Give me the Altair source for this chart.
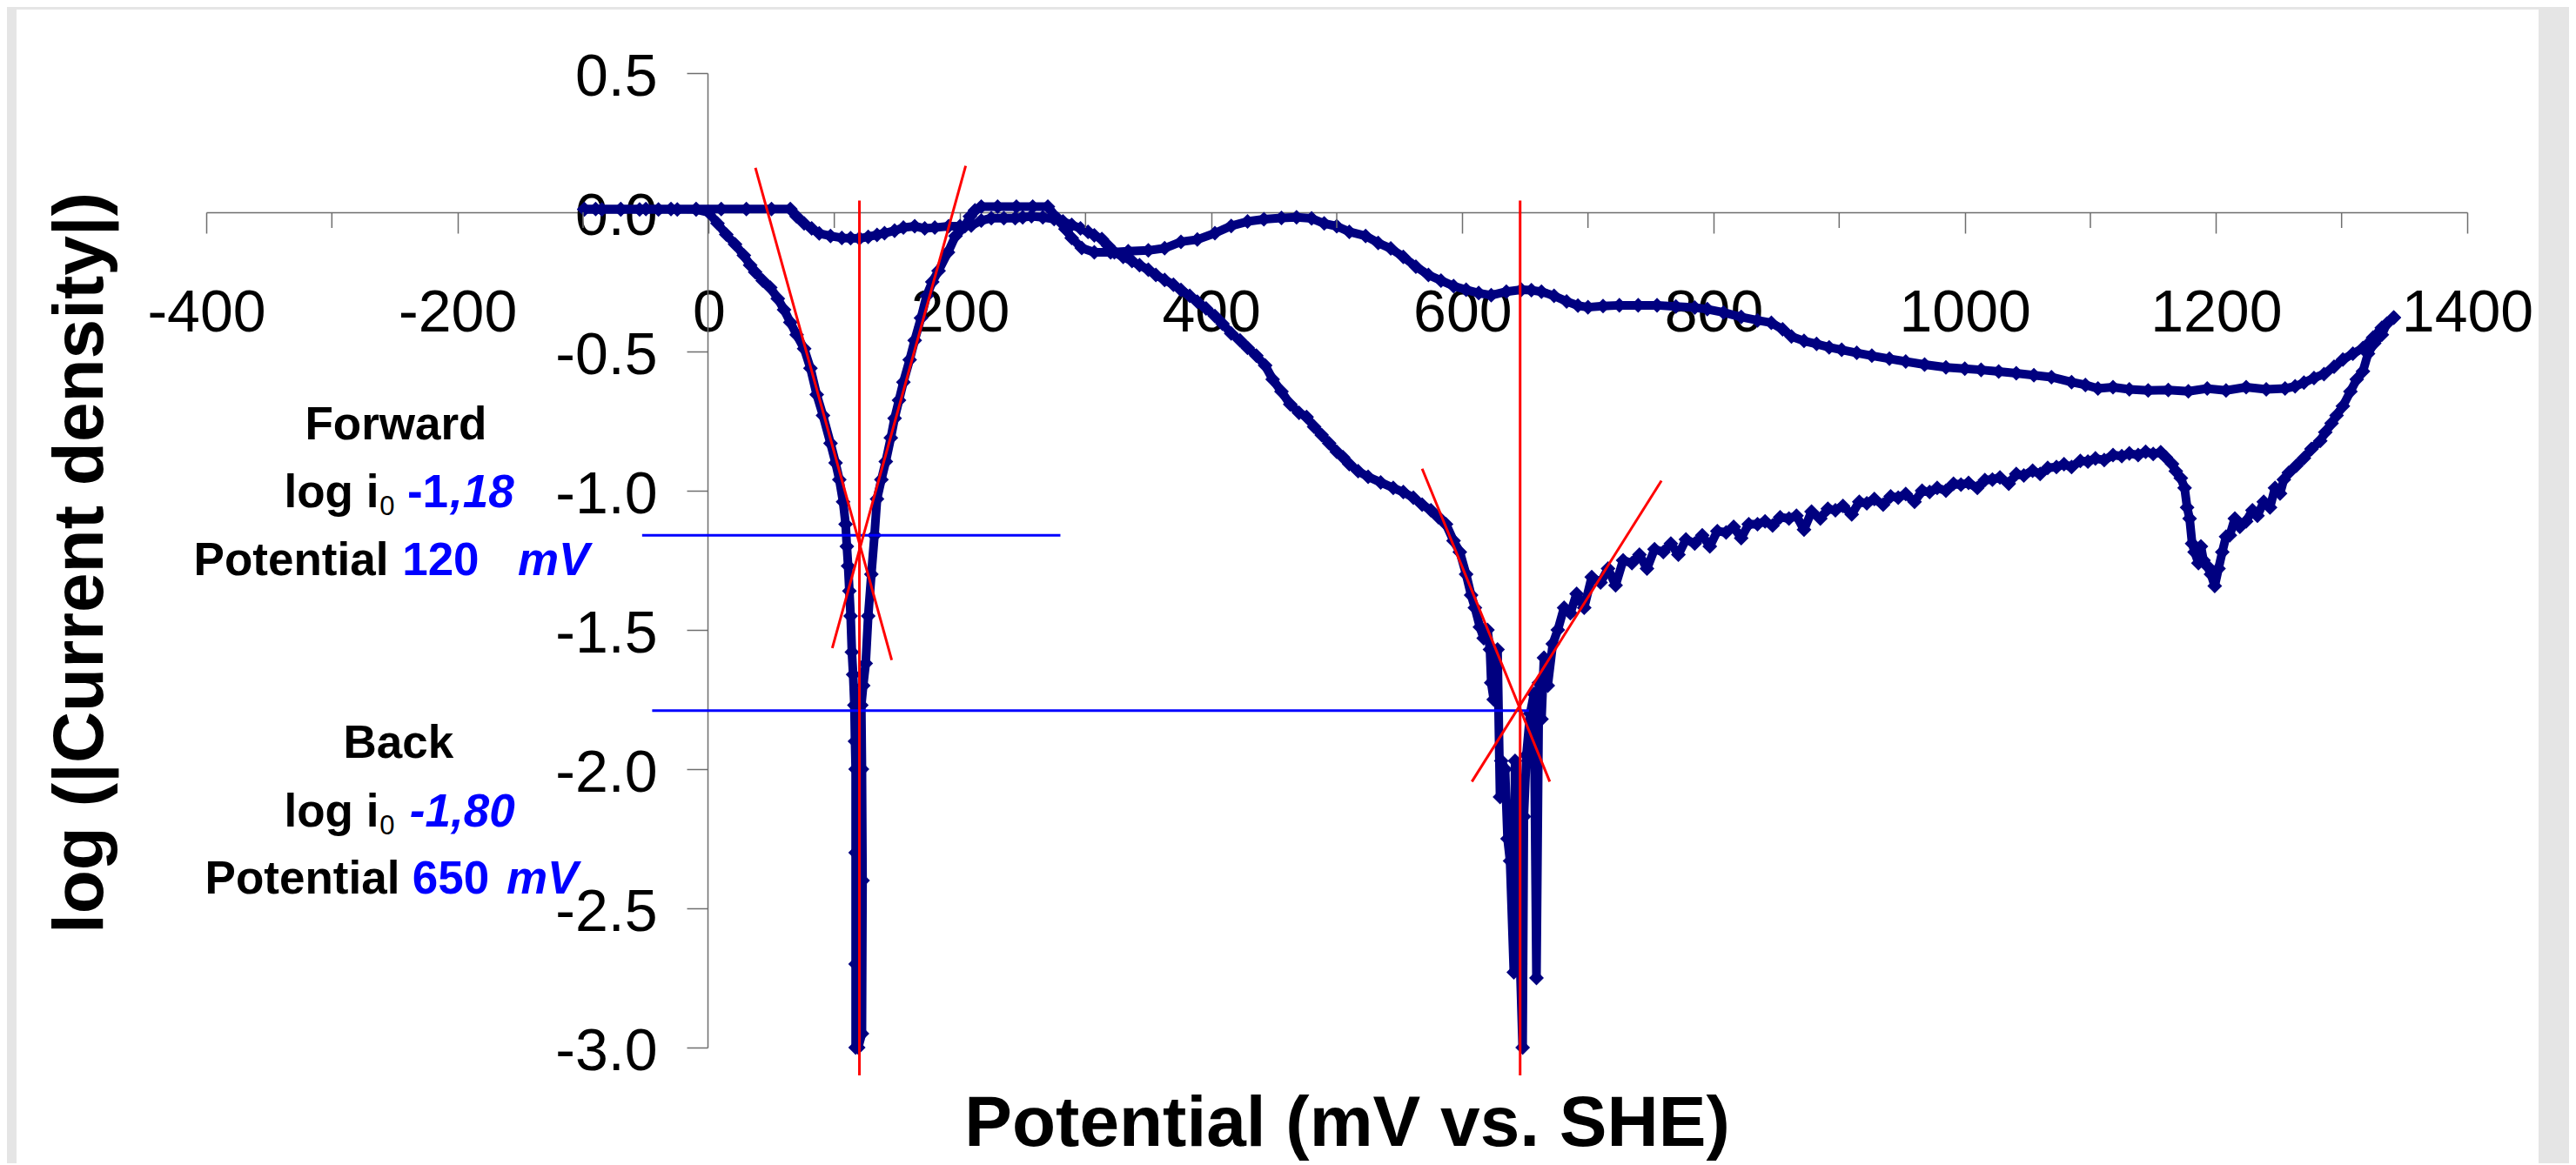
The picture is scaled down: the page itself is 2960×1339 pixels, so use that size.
import altair as alt
import pandas as pd

# ---------------- data ----------------
# forward scan: (potential mV, log|i|)
FORWARD_SCAN = [
    (-99, 0.01), (-85, 0.01), (-70, 0.01), (-55, 0.01), (-40, 0.01), (-25, 0.01), (-10, 0.01), (0, 0.0),
    (7, -0.04), (14, -0.08), (21, -0.115), (28, -0.155), (33, -0.19), (37, -0.215), (43, -0.245),
    (49, -0.27), (55, -0.31), (60, -0.35), (65, -0.395), (70, -0.44), (76, -0.49), (81, -0.56),
    (86, -0.655), (91, -0.73), (97, -0.83), (101, -0.90), (104, -0.96), (107, -1.04), (109, -1.12),
    (110, -1.20), (111, -1.27), (112, -1.36), (113, -1.45), (114, -1.58), (115, -1.66), (116, -1.77),
    (116.5, -1.90), (117, -2.0), (117, -2.3), (117, -2.7), (117, -3.0),
    (119, -3.0), (122, -2.95), (122.5, -2.4), (122, -2.0), (121.5, -1.77), (123, -1.70), (125, -1.62),
    (127, -1.45), (129.5, -1.30), (132, -1.16), (134, -1.03), (137.5, -0.96), (141, -0.895), (145, -0.81),
    (148, -0.74), (151.5, -0.675), (155, -0.61), (160, -0.53), (164, -0.46), (169, -0.38), (173.5, -0.30),
    (178, -0.25), (183, -0.21), (190.5, -0.144), (196.5, -0.085), (204, -0.05), (208, -0.015), (212, 0.007),
    (217, 0.02), (230, 0.02), (245, 0.02), (258, 0.02), (270, 0.02), (278, -0.024), (284, -0.06),
    (289, -0.092), (297, -0.128), (307, -0.144), (320, -0.144), (334, -0.14), (350, -0.137), (363, -0.129),
    (376, -0.106), (389, -0.098), (403, -0.075), (416, -0.049), (429, -0.033), (442, -0.025), (456, -0.02),
    (468, -0.018), (480, -0.022), (490, -0.04), (500, -0.05), (510, -0.07), (523, -0.085), (533, -0.11),
    (543, -0.13), (553, -0.16), (563, -0.195), (573, -0.225), (583, -0.245), (593, -0.265), (603, -0.278),
    (613, -0.29), (623, -0.298), (635, -0.285), (647, -0.278), (655, -0.28), (663, -0.285), (673, -0.30),
    (683, -0.32), (692, -0.335), (700, -0.341), (712, -0.337), (725, -0.334), (740, -0.334), (755, -0.334),
    (770, -0.338), (785, -0.342), (795, -0.348), (808, -0.36), (822, -0.376), (835, -0.388), (846, -0.397),
    (855, -0.42), (862, -0.446), (872, -0.462), (882, -0.473), (892, -0.485), (902, -0.494), (914, -0.505),
    (926, -0.515), (940, -0.526), (953, -0.536), (968, -0.547), (985, -0.557), (1000, -0.562), (1013, -0.566),
    (1027, -0.572), (1041, -0.578), (1055, -0.585), (1069, -0.592), (1085, -0.61), (1096, -0.62),
    (1106, -0.633), (1118, -0.628), (1131, -0.636), (1146, -0.64), (1162, -0.638), (1178, -0.643),
    (1193, -0.633), (1208, -0.64), (1224, -0.628), (1240, -0.636), (1255, -0.633), (1263, -0.625),
    (1270, -0.612), (1278, -0.595), (1286, -0.581), (1294, -0.555), (1301, -0.529), (1309, -0.508),
    (1317, -0.4875), (1325, -0.45), (1332, -0.415), (1341.5, -0.378),
]

# back scan: (potential mV, log|i|)
BACK_SCAN = [
    (1341.5, -0.378), (1336, -0.40), (1332, -0.44), (1326, -0.47), (1321, -0.508), (1317, -0.571),
    (1312, -0.60), (1307, -0.644), (1301, -0.696), (1296, -0.73), (1292, -0.758), (1287, -0.79),
    (1283, -0.821), (1276, -0.85), (1270, -0.883), (1264, -0.91), (1258, -0.935), (1254, -0.96),
    (1251, -1.01), (1247, -0.99), (1243, -1.06), (1238, -1.04), (1233, -1.09), (1229, -1.07),
    (1224, -1.11), (1219, -1.13), (1215, -1.10), (1211, -1.16), (1208, -1.165), (1205, -1.22),
    (1202, -1.28), (1199, -1.342), (1196, -1.30), (1193, -1.27), (1190, -1.25), (1188, -1.20),
    (1186, -1.26), (1183, -1.22), (1181, -1.19), (1179, -1.10), (1177, -1.06), (1175, -0.99),
    (1172, -0.955), (1168, -0.93), (1165, -0.904), (1160, -0.88),
    (1156, -0.862), (1150, -0.868), (1144, -0.860), (1138, -0.872), (1131, -0.866), (1125, -0.876),
    (1118, -0.872), (1111, -0.890), (1104, -0.884), (1098, -0.895), (1092, -0.893), (1085, -0.915),
    (1079, -0.905), (1073, -0.915), (1066, -0.918), (1060, -0.94), (1054, -0.928), (1047, -0.945),
    (1041, -0.94), (1035, -0.975), (1028, -0.952), (1022, -0.96), (1016, -0.962), (1010, -0.99),
    (1003, -0.972), (997, -0.978), (991, -0.975), (985, -1.0), (978, -0.99), (972, -1.005),
    (966, -1.0), (960, -1.04), (953, -1.012), (947, -1.025), (941, -1.02), (935, -1.05),
    (928, -1.03), (922, -1.045), (916, -1.04), (910, -1.085), (903, -1.055), (897, -1.07),
    (891, -1.065), (885, -1.10), (878, -1.075), (872, -1.14), (866, -1.09), (860, -1.10),
    (853, -1.095), (847, -1.125), (841, -1.11), (835, -1.12), (828, -1.12), (822, -1.17),
    (816, -1.13), (810, -1.15), (803, -1.145), (797, -1.20), (791, -1.16), (785, -1.19),
    (778, -1.175), (772, -1.23), (766, -1.19), (760, -1.22), (753, -1.21), (747, -1.28),
    (741, -1.23), (735, -1.26), (728, -1.25), (722, -1.34), (716, -1.28), (710, -1.33),
    (703, -1.31), (697, -1.42), (691, -1.37), (686, -1.44), (681, -1.42), (676, -1.50),
    (672, -1.55), (668, -1.70), (665, -1.60), (663, -1.82), (661, -1.69), (659, -2.75),
    (657, -1.73), (654, -1.80), (651, -1.95), (649, -2.17), (648, -3.0), (646, -2.7),
    (644, -2.35), (642, -1.97), (641, -2.73), (638, -2.33), (636, -2.25), (634, -2.0),
    (631, -1.97), (630, -2.1), (628, -1.57), (625, -1.75), (623, -1.69), (622, -1.57),
    (620, -1.50), (617, -1.53), (614, -1.49), (610, -1.42), (607, -1.375), (603, -1.30),
    (598, -1.22), (593, -1.18), (587, -1.12), (581, -1.095), (575, -1.07), (568, -1.05),
    (561, -1.025), (553, -1.005), (545, -0.99), (535, -0.97), (525, -0.95), (517, -0.93),
    (510, -0.905), (505, -0.88), (500, -0.86), (494, -0.83), (488, -0.80), (482, -0.77),
    (476, -0.735), (470, -0.72), (463, -0.69), (456, -0.644), (449, -0.60), (443, -0.55),
    (436, -0.515), (429, -0.487), (423, -0.46), (416, -0.435), (409, -0.40), (403, -0.373),
    (396, -0.345), (389, -0.321), (383, -0.30), (376, -0.279), (370, -0.26), (363, -0.243),
    (356, -0.225), (350, -0.206), (343, -0.19), (337, -0.175), (330, -0.16), (323, -0.144),
    (318, -0.12), (313, -0.096), (307, -0.083), (302, -0.07), (296, -0.058), (289, -0.045),
    (282, -0.033), (275, -0.024), (266, -0.018), (257, -0.014), (250, -0.018), (244, -0.021),
    (235, -0.021), (225, -0.021), (217, -0.03), (209, -0.048), (200, -0.05), (191, -0.05),
    (180, -0.055), (172, -0.058), (164, -0.05), (155, -0.055), (148, -0.066), (140, -0.075),
    (134, -0.081), (127, -0.088), (120, -0.094), (113, -0.093), (106, -0.092), (97, -0.085),
    (88, -0.076), (82, -0.058), (76, -0.04), (70, -0.015), (65, 0.012), (50, 0.012),
    (30, 0.012), (10, 0.012), (-10, 0.012), (-30, 0.012), (-50, 0.012), (-70, 0.012),
    (-90, 0.012), (-99, 0.012),
]

# corrosion potentials (red verticals)
E_CORR_MV = [120, 646]
E_LINE_TOP = [0.042, 0.042]
E_LINE_BOTTOM = [-3.10, -3.10]

# log i0 (blue horizontals)
LOG_I0 = [-1.16, -1.79]
I0_LINE_FROM = [-53, -45]
I0_LINE_TO = [280, 653]

# Tafel extrapolation lines (red)
TAFEL_X1 = [37.2, 204.6, 568.0, 758.5]
TAFEL_Y1 = [0.160, 0.167, -0.921, -0.964]
TAFEL_X2 = [145.7, 98.4, 669.6, 607.6]
TAFEL_Y2 = [-1.608, -1.565, -2.045, -2.045]

# axis ticks
X_MAJOR = [-400, -200, 0, 200, 400, 600, 800, 1000, 1200, 1400]
X_MINOR = [-300, -100, 100, 300, 500, 700, 900, 1100, 1300]
Y_TICKS = [0.5, 0.0, -0.5, -1.0, -1.5, -2.0, -2.5, -3.0]

# annotation texts (anchored in data units)
ANN_TEXT = ["Forward", "log i", "0", "-1", ",18", "Potential", "120", "mV",
            "Back", "log i", "0", "-1,80", "Potential", "650", "mV"]
ANN_MV = [-249, -338, -262, -240, -206, -410, -244, -152,
          -247, -338, -262, -238, -401, -236, -161]
ANN_LOG = [-0.816, -1.059, -1.0875, -1.059, -1.059, -1.303, -1.303, -1.303,
           -1.959, -2.206, -2.234, -2.206, -2.447, -2.447, -2.447]
ANN_KIND = ["head", "label", "sub", "value", "value_it", "label", "value", "value_it",
            "head", "label", "sub", "value_it", "label", "value", "value_it"]

X_TITLE = ["Potential (mV vs. SHE)"]
Y_TITLE = ["log (|Current density|)"]

# ---------------- chart ----------------
FONT = "Liberation Sans"
NAVY = "#000080"
AXIS_GRAY = "#6e6e6e"
BORDER_GRAY = "#e5e5e5"

xs = alt.Scale(domain=[-400, 1400], nice=False, zero=False)
ys = alt.Scale(domain=[-3.0, 0.5], nice=False, zero=False)

x_axis = alt.Axis(
    values=X_MAJOR, orient="bottom", offset=-960, title=None, grid=False,
    tickSize=24, tickWidth=1.5, tickColor=AXIS_GRAY, domainColor=AXIS_GRAY, domainWidth=1.5,
    labelFont=FONT, labelFontSize=68, labelColor="black", labelPadding=58,
    labelFlush=False, labelOverlap=False, labelBound=False,
    labelExpr="datum.value < 0 ? '-' + format(-datum.value, 'd') : format(datum.value, 'd')",
)
y_axis = alt.Axis(
    values=Y_TICKS, orient="left", offset=-576, title=None, grid=False,
    tickSize=24, tickWidth=1.5, tickColor=AXIS_GRAY, domainColor=AXIS_GRAY, domainWidth=1.5,
    labelFont=FONT, labelFontSize=68, labelColor="black", labelPadding=34, labelOffset=5,
    labelFlush=False, labelOverlap=False, labelBound=False,
    labelExpr="datum.value < 0 ? '-' + format(-datum.value, '.1f') : format(datum.value, '.1f')",
)


def X(field):
    return alt.X(field, scale=xs, axis=x_axis)


def Y(field):
    return alt.Y(field, scale=ys, axis=y_axis)


rows = [(mv, lg) for mv, lg in FORWARD_SCAN] + [(mv, lg) for mv, lg in BACK_SCAN]
curve_df = pd.DataFrame(rows, columns=["mv", "lg"])
curve_df["i"] = range(len(curve_df))

one = pd.DataFrame({"k": [0]})

border_left = alt.Chart(one).mark_rect(color=BORDER_GRAY).encode(
    x=alt.value(-229), x2=alt.value(-218), y=alt.value(-76), y2=alt.value(1260))
border_top = alt.Chart(one).mark_rect(color=BORDER_GRAY).encode(
    x=alt.value(-229), x2=alt.value(2715), y=alt.value(-76), y2=alt.value(-73))
border_right = alt.Chart(one).mark_rect(color=BORDER_GRAY).encode(
    x=alt.value(2680), x2=alt.value(2715), y=alt.value(-76), y2=alt.value(1260))

curve_line = alt.Chart(curve_df).mark_line(
    color=NAVY, strokeWidth=10, strokeJoin="round", strokeCap="round",
).encode(
    x=X("mv:Q"),
    y=Y("lg:Q"),
    order=alt.Order("i:Q"),
)
curve_pts = alt.Chart(curve_df).mark_point(
    shape="diamond", size=290, filled=True, color=NAVY, opacity=1,
).encode(
    x=X("mv:Q"),
    y=Y("lg:Q"),
)

minor_df = pd.DataFrame({"mv": X_MINOR, "lg": [0.0] * len(X_MINOR)})
minor = alt.Chart(minor_df).mark_rule(color=AXIS_GRAY, strokeWidth=1.5, y2Offset=18).encode(
    x=X("mv:Q"), y=Y("lg:Q"), y2="lg:Q",
)

i0_df = pd.DataFrame({"lg": LOG_I0, "x1": I0_LINE_FROM, "x2": I0_LINE_TO})
i0_lines = alt.Chart(i0_df).mark_rule(color="#0000ff", strokeWidth=3).encode(
    x=X("x1:Q"), x2="x2:Q", y=Y("lg:Q"),
)

ecorr_df = pd.DataFrame({"mv": E_CORR_MV, "top": E_LINE_TOP, "bottom": E_LINE_BOTTOM})
ecorr_lines = alt.Chart(ecorr_df).mark_rule(color="#ff0000", strokeWidth=3).encode(
    x=X("mv:Q"), y=Y("top:Q"), y2="bottom:Q",
)

tafel_df = pd.DataFrame({"x1": TAFEL_X1, "y1": TAFEL_Y1, "x2": TAFEL_X2, "y2": TAFEL_Y2})
tafel_lines = alt.Chart(tafel_df).mark_rule(color="#ff0000", strokeWidth=3).encode(
    x=X("x1:Q"), x2="x2:Q", y=Y("y1:Q"), y2="y2:Q",
)

ann_df = pd.DataFrame({"t": ANN_TEXT, "mv": ANN_MV, "lg": ANN_LOG, "kind": ANN_KIND})
styles = {
    "head": dict(color="black", fontWeight="bold", fontStyle="normal", fontSize=53, align="center"),
    "label": dict(color="black", fontWeight="bold", fontStyle="normal", fontSize=53, align="left"),
    "sub": dict(color="black", fontWeight="normal", fontStyle="normal", fontSize=31, align="left"),
    "value": dict(color="#0000ff", fontWeight="bold", fontStyle="normal", fontSize=53, align="left"),
    "value_it": dict(color="#0000ff", fontWeight="bold", fontStyle="italic", fontSize=53, align="left"),
}
text_layers = []
for kind, st in styles.items():
    sub = ann_df[ann_df["kind"] == kind]
    text_layers.append(
        alt.Chart(sub).mark_text(font=FONT, baseline="alphabetic", **st).encode(
            x=X("mv:Q"), y=Y("lg:Q"), text="t:N",
        )
    )

x_title = alt.Chart(pd.DataFrame({"t": X_TITLE})).mark_text(
    font=FONT, fontSize=82, fontWeight="bold", color="black", align="center", baseline="alphabetic"
).encode(text="t:N", x=alt.value(1311), y=alt.value(1233))

y_title = alt.Chart(pd.DataFrame({"t": Y_TITLE})).mark_text(
    font=FONT, fontSize=82, fontWeight="bold", color="black", align="center", baseline="alphabetic",
    angle=270,
).encode(text="t:N", x=alt.value(-119), y=alt.value(563))

chart = alt.layer(
    curve_line, curve_pts, border_left, border_top, border_right, minor, i0_lines, ecorr_lines,
    tafel_lines, *text_layers, x_title, y_title,
).properties(
    width=2598, height=1120,
    autosize=alt.AutoSizeParams(type="none"),
    padding={"left": 229, "top": 76, "right": 117, "bottom": 133},
    background="white",
).configure_view(stroke="transparent")

chart.save("out.html", embed_options={"renderer": "svg", "actions": False})
